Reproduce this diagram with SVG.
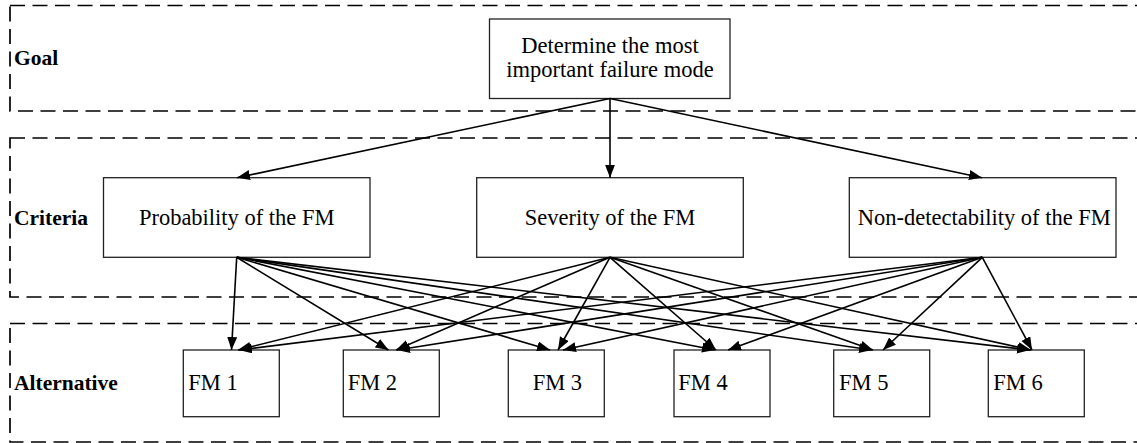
<svg xmlns="http://www.w3.org/2000/svg" width="1137" height="443" viewBox="0 0 1137 443">
<style>
.layer{fill:none;stroke:#000;stroke-width:1.7;stroke-dasharray:15 7.5}
.node{fill:#fff;stroke:#222;stroke-width:1.3}
.t{font-family:"Liberation Serif","Times New Roman",serif;font-size:22.5px;fill:#000}
.lbl{font-family:"Liberation Serif","Times New Roman",serif;font-size:21.5px;font-weight:bold;fill:#000}
.c{text-anchor:middle}
.edge{fill:none;stroke:#000;stroke-width:1.6;marker-end:url(#ah)}
</style>
<defs>
<marker id="ah" markerUnits="userSpaceOnUse" markerWidth="14" markerHeight="11" refX="13" refY="5" orient="auto">
<path d="M0,0 L13,5 L0,10 z" fill="#000"/>
</marker>
</defs>
<rect width="1137" height="443" fill="#fff"/>
<g id="layers">
<rect class="layer" x="10" y="5.5" width="1140" height="105.5"/>
<rect class="layer" x="10" y="138" width="1140" height="159"/>
<rect class="layer" x="10" y="323.5" width="1140" height="118.5"/>
<text class="lbl" x="14" y="65">Goal</text>
<text class="lbl" x="14" y="225">Criteria</text>
<text class="lbl" x="14" y="390">Alternative</text>
</g>
<g id="goal">
<rect class="node" x="489.5" y="19" width="240.5" height="79.5"/>
<text class="t c" x="610" y="53">Determine the most</text>
<text class="t c" x="610" y="77">important failure mode</text>
</g>
<g id="probability">
<rect class="node" x="103.5" y="177.7" width="266.5" height="79.6"/>
<text class="t c" x="236.7" y="225">Probability of the FM</text>
</g>
<g id="severity">
<rect class="node" x="476.7" y="177.7" width="266.6" height="79.6"/>
<text class="t c" x="610" y="225">Severity of the FM</text>
</g>
<g id="nondetect">
<rect class="node" x="849.3" y="177.7" width="266.7" height="79.6"/>
<text class="t c" x="984.3" y="225">Non-detectability of the FM</text>
</g>
<g id="fm1"><rect class="node" x="183.3" y="350" width="96" height="66.7"/><text class="t" x="188.3" y="390">FM 1</text></g>
<g id="fm2"><rect class="node" x="343.3" y="350" width="96" height="66.7"/><text class="t" x="347.7" y="390">FM 2</text></g>
<g id="fm3"><rect class="node" x="508.3" y="350" width="96" height="66.7"/><text class="t" x="532.7" y="390">FM 3</text></g>
<g id="fm4"><rect class="node" x="674" y="350" width="96" height="66.7"/><text class="t" x="678.3" y="390">FM 4</text></g>
<g id="fm5"><rect class="node" x="833.7" y="350" width="96" height="66.7"/><text class="t" x="839" y="390">FM 5</text></g>
<g id="fm6"><rect class="node" x="988.3" y="350" width="96" height="66.7"/><text class="t" x="993.3" y="390">FM 6</text></g>
<g id="connectors">
<line class="edge" x1="610" y1="98.5" x2="237" y2="177.7"/>
<line class="edge" x1="610" y1="98.5" x2="610" y2="177.7"/>
<line class="edge" x1="610" y1="98.5" x2="982" y2="177.7"/>
<line class="edge" x1="236.7" y1="257.3" x2="231.5" y2="350"/>
<line class="edge" x1="236.7" y1="257.3" x2="388.5" y2="350"/>
<line class="edge" x1="236.7" y1="257.3" x2="550" y2="350"/>
<line class="edge" x1="236.7" y1="257.3" x2="715" y2="350"/>
<line class="edge" x1="236.7" y1="257.3" x2="872" y2="350"/>
<line class="edge" x1="236.7" y1="257.3" x2="1030" y2="350"/>
<line class="edge" x1="610" y1="257.3" x2="238" y2="350"/>
<line class="edge" x1="610" y1="257.3" x2="396" y2="350"/>
<line class="edge" x1="610" y1="257.3" x2="558" y2="350"/>
<line class="edge" x1="610" y1="257.3" x2="716" y2="350"/>
<line class="edge" x1="610" y1="257.3" x2="873" y2="350"/>
<line class="edge" x1="610" y1="257.3" x2="1031" y2="350"/>
<line class="edge" x1="982.3" y1="257.3" x2="239" y2="350"/>
<line class="edge" x1="982.3" y1="257.3" x2="397" y2="350"/>
<line class="edge" x1="982.3" y1="257.3" x2="563" y2="350"/>
<line class="edge" x1="982.3" y1="257.3" x2="728" y2="350"/>
<line class="edge" x1="982.3" y1="257.3" x2="883" y2="350"/>
<line class="edge" x1="982.3" y1="257.3" x2="1032" y2="350"/>
</g>
</svg>
